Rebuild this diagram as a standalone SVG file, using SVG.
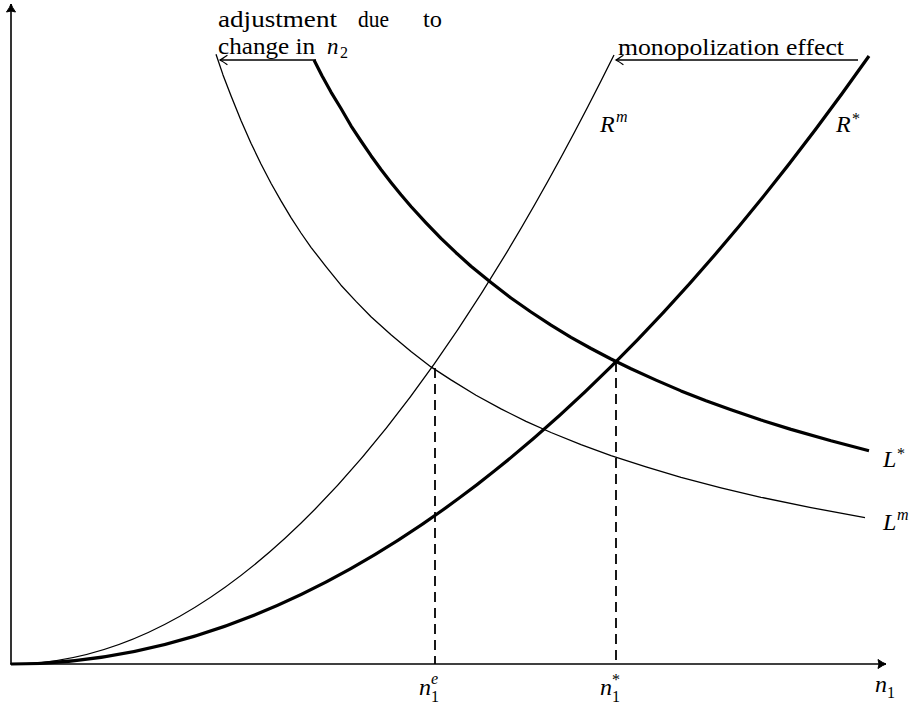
<svg xmlns="http://www.w3.org/2000/svg" width="920" height="707" viewBox="0 0 920 707">
<style>
  text { font-family: "Liberation Serif", "Times New Roman", serif; font-size: 23px; fill: #000; }
  .i { font-style: italic; }
  .m { font-size: 24px; }
  .s { font-size: 16px; }
  .thin { fill: none; stroke: #000; stroke-width: 1.3; stroke-linejoin: round; }
  .thick { fill: none; stroke: #000; stroke-width: 3.2; stroke-linejoin: round; }
  .axis { fill: none; stroke: #000; stroke-width: 1.6; }
  .dash { fill: none; stroke: #000; stroke-width: 1.8; stroke-dasharray: 10 6; }
  .arr { fill: none; stroke: #000; stroke-width: 1.4; }
</style>
<defs>
  <marker id="ah" markerWidth="12" markerHeight="12" refX="0" refY="0" viewBox="-9 -6 12 12" orient="auto" markerUnits="userSpaceOnUse">
    <path d="M -7,-4.5 Q -2,-1 0,0 Q -2,1 -7,4.5" fill="none" stroke="#000" stroke-width="1.3" stroke-linecap="round"/>
  </marker>
  <marker id="axh" markerWidth="14" markerHeight="14" refX="0" refY="0" viewBox="-10 -7 13 14" orient="auto" markerUnits="userSpaceOnUse">
    <path d="M -8,-4.5 Q -3,-1 0,0 Q -3,1 -8,4.5 Q -6,0 -8,-4.5 Z" fill="#000" stroke="#000" stroke-width="1" stroke-linejoin="round"/>
  </marker>
</defs>

<g id="axes">
  <line class="axis" x1="11" y1="664" x2="11" y2="4" marker-end="url(#axh)"/>
  <line class="axis" x1="10" y1="664" x2="886" y2="664" marker-end="url(#axh)"/>
</g>

<g id="connectors">
  <line class="arr" x1="316" y1="60" x2="220" y2="60" marker-end="url(#ah)"/>
  <line class="arr" x1="858" y1="60" x2="616" y2="60" marker-end="url(#ah)"/>
  <line class="dash" x1="435" y1="368" x2="435" y2="664"/>
  <line class="dash" x1="616" y1="362" x2="616" y2="664"/>
</g>

<g id="curve-Rm">
  <path class="thin" d="M11,664 Q312.5,664 614,55"/>
</g>
<g id="curve-Rstar">
  <path class="thick" d="M11,664 Q440,664 869,56"/>
</g>
<g id="curve-Lstar">
  <polyline class="thick" points="314,60 322,75.8 331,92.1 341,108.5 351,125.8 361,141 371,155.7 381,169.5 391,182.4 401,194.8 411,206.5 426,222.8 441,238.4 456,252.7 471,266.2 491,282.6 511,298 531,312 551,325.1 571,337.3 591,348.5 611,359 631,368.8 656,380.1 681,390.9 706,400.8 731,409.8 761,420 791,429.4 831,440.8 869,450.7"/>
</g>
<g id="curve-Lm">
  <polyline class="thin" points="216,54.2 223,74.9 231,95.8 241,120.4 251,143.2 261,164 271,183.2 281,200.9 291,217.6 301,233 311,247.3 326,266.6 341,285.2 356,301.4 371,316.8 391,334.8 411,351.5 431,366.9 451,379.9 476,395.3 501,408.9 526,421.3 551,432.5 581,444.7 611,455.7 646,466.8 681,477.4 721,487.8 761,497.3 811,507.6 865,517.6"/>
</g>

<g id="label-adjustment">
  <text x="218" y="27" textLength="119" lengthAdjust="spacingAndGlyphs">adjustment</text>
  <text x="358" y="27" textLength="31" lengthAdjust="spacingAndGlyphs">due</text>
  <text x="423" y="27" textLength="19" lengthAdjust="spacingAndGlyphs">to</text>
  <text x="218" y="54" textLength="97" lengthAdjust="spacingAndGlyphs">change in</text>
  <text class="i" x="327" y="54">n</text>
  <text class="s" x="340" y="58">2</text>
</g>
<g id="label-monopolization">
  <text x="618" y="55" textLength="226" lengthAdjust="spacingAndGlyphs">monopolization effect</text>
</g>
<g id="label-Rm">
  <text class="i m" x="600" y="132">R</text>
  <text class="i s" x="616" y="122">m</text>
</g>
<g id="label-Rstar">
  <text class="i m" x="836" y="132">R</text>
  <text class="s" x="852" y="124">*</text>
</g>
<g id="label-Lstar">
  <text class="i m" x="883" y="467">L</text>
  <text class="s" x="897" y="459">*</text>
</g>
<g id="label-Lm">
  <text class="i m" x="883" y="530">L</text>
  <text class="i s" x="897" y="520">m</text>
</g>
<g id="label-n1e">
  <text class="i m" x="419" y="695">n</text>
  <text class="s" x="431" y="702">1</text>
  <text class="i s" x="431" y="684">e</text>
</g>
<g id="label-n1star">
  <text class="i m" x="600" y="695">n</text>
  <text class="s" x="612" y="702">1</text>
  <text class="s" x="612" y="685">*</text>
</g>
<g id="label-n1">
  <text class="i m" x="875" y="692">n</text>
  <text class="s" x="887" y="698">1</text>
</g>
</svg>
